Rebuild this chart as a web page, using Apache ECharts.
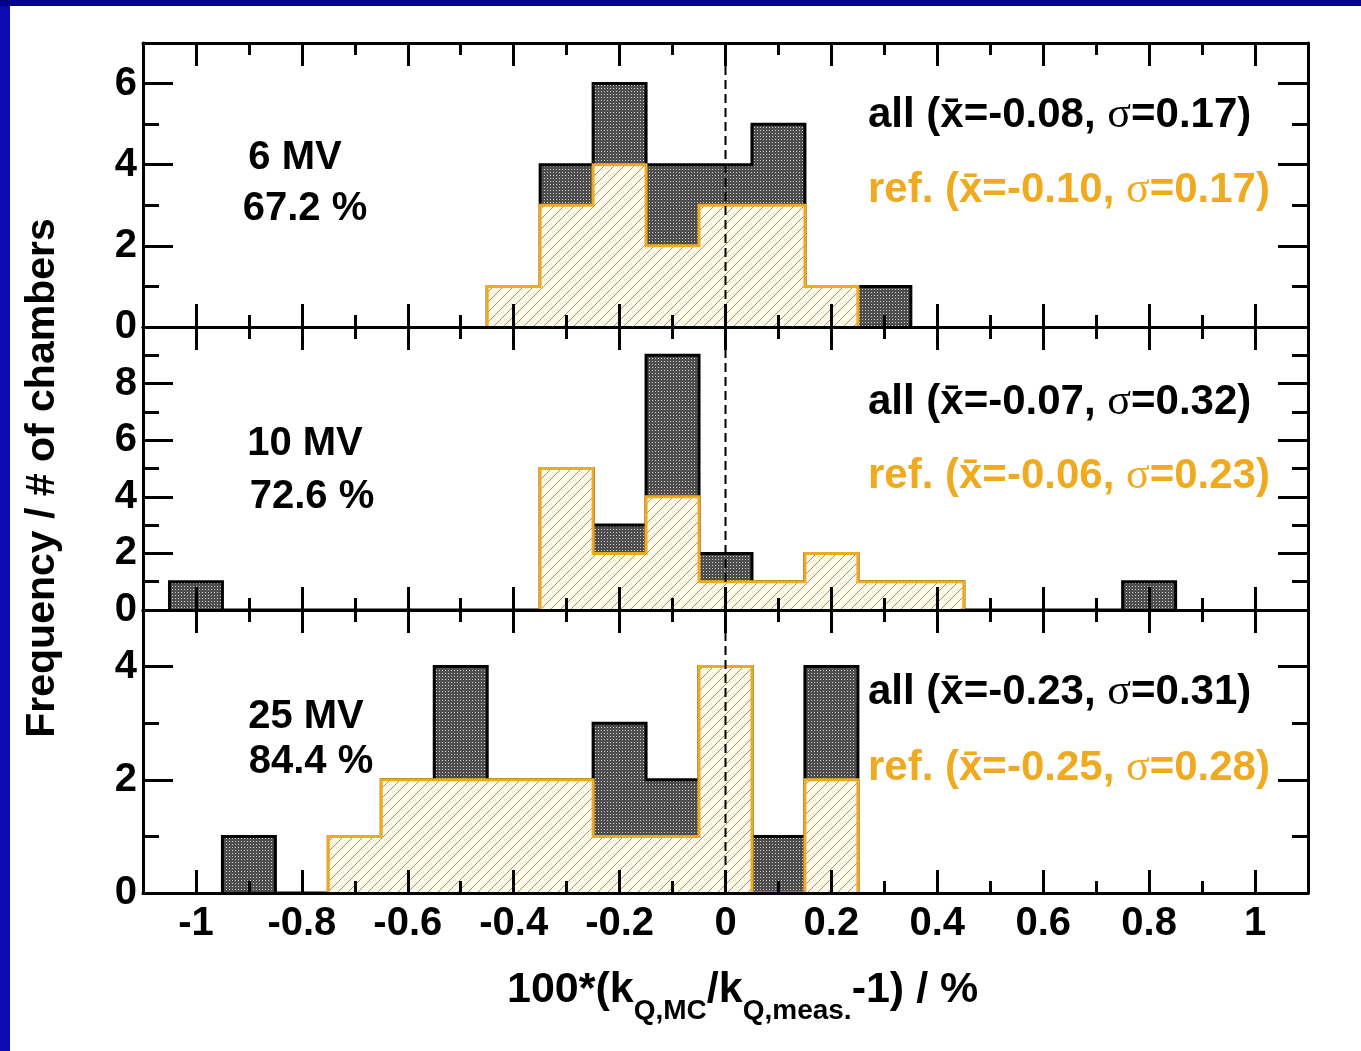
<!DOCTYPE html>
<html><head><meta charset="utf-8">
<script src="https://cdn.jsdelivr.net/npm/echarts@6/dist/echarts.min.js"></script>
<style>html,body{margin:0;padding:0;background:#fff}#c{width:1361px;height:1051px}</style>
</head><body><div id="c"></div><script>
// ---------------- data ----------------
const binCenters = [-1.0,-0.9,-0.8,-0.7,-0.6,-0.5,-0.4,-0.3,-0.2,-0.1,0.0,0.1,0.2,0.3,0.4,0.5,0.6,0.7,0.8,0.9,1.0];
const all6MV  = [0,0,0,0,0,0,1,4,6,4,4,5,1,1,0,0,0,0,0,0,0];
const ref6MV  = [0,0,0,0,0,0,1,3,4,2,3,3,1,0,0,0,0,0,0,0,0];
const all10MV = [1,0,0,0,0,0,0,5,3,9,2,1,2,1,1,0,0,0,1,0,0];
const ref10MV = [0,0,0,0,0,0,0,5,2,4,1,1,2,1,1,0,0,0,0,0,0];
const all25MV = [0,1,0,1,2,4,2,2,3,2,4,1,4,0,0,0,0,0,0,0,0];
const ref25MV = [0,0,0,1,2,2,2,2,1,1,4,0,2,0,0,0,0,0,0,0,0];
const xTickLabels = [-1,-0.8,-0.6,-0.4,-0.2,0,0.2,0.4,0.6,0.8,1];
const xMinorTicks = [-0.9,-0.7,-0.5,-0.3,-0.1,0.1,0.3,0.5,0.7,0.9];
const yMaxes = [7,10,5];
const yMajorTicks = [[0,2,4,6],[0,2,4,6,8],[0,2,4]];
const yMinorTicks = [[1,3,5],[1,3,5,7,9],[1,3]];
const panelLabels = ['6 MV','10 MV','25 MV'];
const panelPercents = ['67.2 %','72.6 %','84.4 %'];
const allMeans = ['-0.08','-0.07','-0.23'];
const allSigmas = ['0.17','0.32','0.31'];
const refMeans = ['-0.10','-0.06','-0.25'];
const refSigmas = ['0.17','0.23','0.28'];
const zeroLineX = 0;
const BIN = 0.1;
const allData = [all6MV, all10MV, all25MV];
const refData = [ref6MV, ref10MV, ref25MV];

// ---------------- style ----------------
const FONT = '"Liberation Sans", Arial, sans-serif';
const SERIF = '"Liberation Serif", "DejaVu Serif", serif';
const ORANGE = '#efaa20';
const grids = [
  {left:143, top:43, width:1165, height:284},
  {left:143, top:327, width:1165, height:283},
  {left:143, top:610, width:1165, height:283}
];
function makePattern(size, draw){
  const c = document.createElement('canvas'); c.width = c.height = size;
  draw(c.getContext('2d')); return {image:c, repeat:'repeat'};
}
const hatch = makePattern(10, ctx => {
  ctx.fillStyle = '#fffbea'; ctx.fillRect(0,0,10,10);
  ctx.strokeStyle = '#a39470'; ctx.lineWidth = 1; ctx.beginPath();
  ctx.moveTo(-1,11); ctx.lineTo(11,-1); ctx.moveTo(-1,1); ctx.lineTo(1,-1);
  ctx.moveTo(9,11); ctx.lineTo(11,9); ctx.stroke();
});
const dots = makePattern(3, ctx => {
  ctx.fillStyle = '#4e4e4e'; ctx.fillRect(0,0,3,3);
  ctx.fillStyle = '#cccccc'; ctx.fillRect(1,1,1,1);
});

const xAxes = [], yAxes = [], xIdx = [], yIdx = [];
function xAx(g, pos, vals, len, line, labels){
  return {type:'value', gridIndex:g, position:pos, min:-1.1, max:1.1, z:10,
    axisLine:{show:line, onZero:false, lineStyle:{color:'#000', width:3}},
    axisTick:{show:true, inside:true, length:len, customValues:vals, lineStyle:{color:'#000', width:3}},
    axisLabel: labels ? {show:true, customValues:labels, margin:11, color:'#000', fontSize:40, fontWeight:'bold', fontFamily:FONT} : {show:false},
    splitLine:{show:false}};
}
function yAx(g, pos, vals, len, line, labels){
  return {type:'value', gridIndex:g, position:pos, min:0, max:yMaxes[g], z:10,
    axisLine:{show:line, onZero:false, lineStyle:{color:'#000', width:3}},
    axisTick:{show:true, inside:true, length:len, customValues:vals, lineStyle:{color:'#000', width:3}},
    axisLabel: labels ? {show:true, customValues:labels, margin:6, color:'#000', fontSize:40, fontWeight:'bold', fontFamily:FONT} : {show:false},
    splitLine:{show:false}};
}
for (let g = 0; g < 3; g++) {
  xIdx.push(xAxes.length);
  xAxes.push(xAx(g,'bottom',xTickLabels,23,true, g===2 ? xTickLabels : null));
  xAxes.push(xAx(g,'bottom',xMinorTicks,12,false,null));
  xAxes.push(xAx(g,'top',xTickLabels,23,true,null));
  xAxes.push(xAx(g,'top',xMinorTicks,12,false,null));
  yIdx.push(yAxes.length);
  yAxes.push(yAx(g,'left',yMajorTicks[g],30,true,yMajorTicks[g]));
  yAxes.push(yAx(g,'left',yMinorTicks[g],16,false,null));
  yAxes.push(yAx(g,'right',yMajorTicks[g],30,true,null));
  yAxes.push(yAx(g,'right',yMinorTicks[g],16,false,null));
}

function histSeries(g, counts, fill, stroke, lw, z){
  return {type:'custom', xAxisIndex:xIdx[g], yAxisIndex:yIdx[g], z:z, silent:true,
    data: counts.map((c,i) => [binCenters[i], c]),
    renderItem(params, api){
      if (params.dataIndex !== 0) return null;
      let first = counts.findIndex(c => c > 0);
      let last = counts.length - 1; while (last > 0 && counts[last] === 0) last--;
      const pts = [api.coord([binCenters[first]-BIN/2, 0])];
      for (let i = first; i <= last; i++) {
        pts.push(api.coord([binCenters[i]-BIN/2, counts[i]]));
        pts.push(api.coord([binCenters[i]+BIN/2, counts[i]]));
      }
      pts.push(api.coord([binCenters[last]+BIN/2, 0]));
      return {type:'group', children:[
        {type:'polygon', shape:{points:pts}, style:{fill:fill, stroke:null}},
        {type:'polyline', shape:{points:pts}, style:{fill:null, stroke:stroke, lineWidth:lw, lineJoin:'miter'}}
      ]};
    }};
}
const series = [];
for (let g = 0; g < 3; g++) {
  series.push(histSeries(g, allData[g], dots, '#000', 3, 2));
  series.push(histSeries(g, refData[g], hatch, ORANGE, 3, 3));
  series.push({type:'custom', xAxisIndex:xIdx[g], yAxisIndex:yIdx[g], z:6, silent:true,
    data:[[zeroLineX]],
    renderItem(params, api){
      const a = api.coord([api.value(0), 0]), b = api.coord([api.value(0), yMaxes[g]]);
      return {type:'line', shape:{x1:a[0], y1:a[1], x2:b[0], y2:b[1]}, style:{stroke:'#000', lineWidth:2, lineDash:[9,5]}};
    }});
}

// ---------------- texts ----------------
const graphics = [
  {type:'rect', shape:{x:0, y:0, width:10, height:1051}, style:{fill:'#0b0bb2'}, z:100},
  {type:'rect', shape:{x:0, y:0, width:1361, height:6}, style:{fill:'#00008a'}, z:100},
  {type:'text', x:43, y:478, rotation:Math.PI/2, style:{text:'Frequency / # of chambers', fontSize:41, fontWeight:'bold', fontFamily:FONT, fill:'#000', align:'center', verticalAlign:'middle'}}
];
const labelPos = [[295,158,305,209],[305,444,312,497],[306,717,311,762]];
const statY = [[115,190],[402,476],[692,768]];
function statText(prefix, m, s){ return `{b|${prefix} (x\u0304=${m}, }{s|\u03c3}{b|=${s})}`; }
for (let g = 0; g < 3; g++) {
  const p = labelPos[g];
  graphics.push({type:'text', x:p[0], y:p[1], style:{text:panelLabels[g], fontSize:40, fontWeight:'bold', fontFamily:FONT, fill:'#000', align:'center', verticalAlign:'middle'}});
  graphics.push({type:'text', x:p[2], y:p[3], style:{text:panelPercents[g], fontSize:40, fontWeight:'bold', fontFamily:FONT, fill:'#000', align:'center', verticalAlign:'middle'}});
  const mk = (color) => ({b:{fontSize:42, fontWeight:'bold', fontFamily:FONT, fill:color}, s:{fontSize:44, fontFamily:SERIF, fill:color}});
  graphics.push({type:'text', x:868, y:statY[g][0], style:{text:statText('all', allMeans[g], allSigmas[g]), rich:mk('#000'), fill:'#000', align:'left', verticalAlign:'middle'}});
  graphics.push({type:'text', x:868, y:statY[g][1], style:{text:statText('ref.', refMeans[g], refSigmas[g]), rich:mk(ORANGE), fill:ORANGE, align:'left', verticalAlign:'middle'}});
}
// x-axis title with subscripts, laid out with measured widths
(function(){
  const ctx = document.createElement('canvas').getContext('2d');
  const pieces = [
    {t:'100*(k', f:43, sub:false}, {t:'Q,MC', f:28, sub:true}, {t:'/k', f:43, sub:false},
    {t:'Q,meas.', f:28, sub:true}, {t:'-1) / %', f:43, sub:false}
  ];
  let x = 507;
  pieces.forEach(pc => {
    ctx.font = `bold ${pc.f}px ${FONT}`;
    const w = ctx.measureText(pc.t).width;
    graphics.push({type:'text', x:x, y: pc.sub ? 1011 : 990, style:{text:pc.t, fontSize:pc.f, fontWeight:'bold', fontFamily:FONT, fill:'#000', align:'left', verticalAlign:'middle'}});
    x += w;
  });
})();

const chart = echarts.init(document.getElementById('c'), null, {renderer:'canvas'});
chart.setOption({
  animation:false,
  backgroundColor:'#fff',
  grid: grids,
  xAxis: xAxes,
  yAxis: yAxes,
  series: series,
  graphic: graphics
});
</script></body></html>
